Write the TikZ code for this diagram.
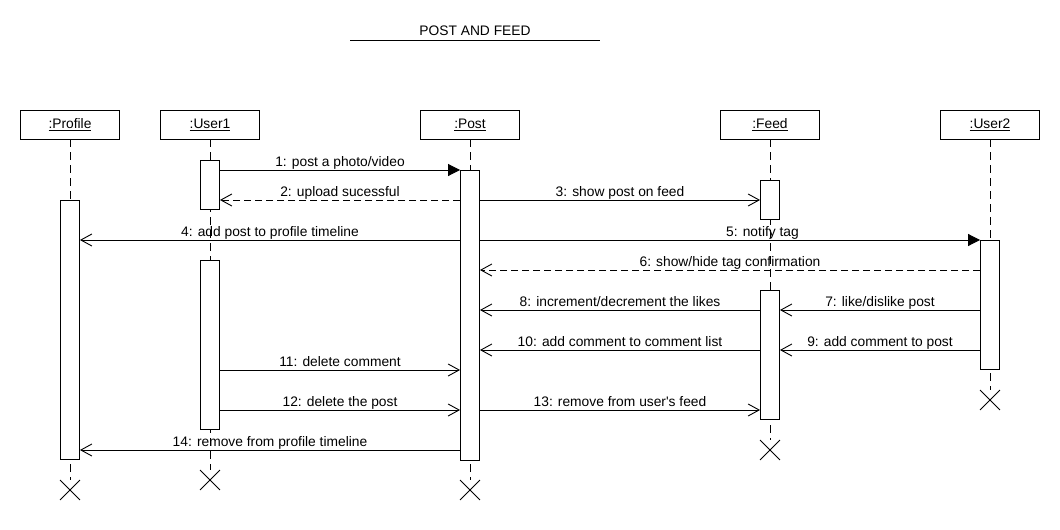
\documentclass[tikz,border=0pt]{standalone}
\usepackage{fontspec}
\setmainfont{Liberation Sans}
\usetikzlibrary{arrows.meta,shapes.misc}
\begin{document}
\begin{tikzpicture}[x=1pt,y=-1pt,
  font=\fontsize{13.8}{16}\selectfont,
  line width=0.9pt,
  obj/.style={draw, fill=white, minimum width=99pt, minimum height=29pt, inner sep=0pt},
  act/.style={draw, fill=white, minimum width=19pt, inner sep=0pt, anchor=north},
  lifeline/.style={dash pattern=on 8pt off 5pt},
  kill/.style={draw, cross out, minimum size=19pt, inner sep=0pt},
  syncmsg/.style={-{Triangle[length=12pt,width=12pt]}},
  replymsg/.style={-{Straight Barb[length=11pt,width=12pt]}, dash pattern=on 7pt off 4pt},
  asyncmsg/.style={-{Straight Barb[length=11pt,width=12pt]}},
  lbl/.style={anchor=base, yshift=4pt, inner sep=0pt}]
\useasboundingbox (0,0) rectangle (1060,530);
\fill[white] (0,0) rectangle (1060,530);

% title
\node[anchor=base, inner sep=0pt] (title) at (475,35) {POST AND FEED};
\coordinate (tl) at (350,40);
\coordinate (tr) at (600,40);
\draw (tl) -- (tr);

% objects
\node[obj] (profile) at (70,124.5) {\underline{:Profile}};
\node[obj] (user1)   at (210,124.5) {\underline{:User1}};
\node[obj] (post)    at (470,124.5) {\underline{:Post}};
\node[obj] (feed)    at (770,124.5) {\underline{:Feed}};
\node[obj] (user2)   at (990,124.5) {\underline{:User2}};

% destruction marks
\node[kill] (xprofile) at (70,490) {};
\node[kill] (xuser1)   at (210,480) {};
\node[kill] (xpost)    at (470,490) {};
\node[kill] (xfeed)    at (770,450) {};
\node[kill] (xuser2)   at (990,400) {};

% lifelines
\draw[lifeline] (profile.south) -- (xprofile.north);
\draw[lifeline] (user1.south) -- (xuser1.north);
\draw[lifeline] (post.south) -- (xpost.north);
\draw[lifeline] (feed.south) -- (xfeed.north);
\draw[lifeline] (user2.south) -- (xuser2.north);

% activations
\node[act, minimum height=49pt]  (ua1) at (210,160) {};
\node[act, minimum height=290pt] (pa)  at (470,170) {};
\node[act, minimum height=39pt]  (fa1) at (770,180) {};
\node[act, minimum height=259pt] (pra) at (70,200) {};
\node[act, minimum height=129pt] (u2a) at (990,240) {};
\node[act, minimum height=169pt] (ua2) at (210,260) {};
\node[act, minimum height=129pt] (fa2) at (770,290) {};

% message levels
\coordinate (m1) at (0,170);
\coordinate (m2) at (0,200);
\coordinate (m4) at (0,240);
\coordinate (m6) at (0,270);
\coordinate (m7) at (0,310);
\coordinate (m9) at (0,350);
\coordinate (m11) at (0,370);
\coordinate (m12) at (0,410);
\coordinate (m14) at (0,450);

% messages
\draw[syncmsg] (ua1.east |- m1) -- node[midway,lbl]{1: post a photo/video} (pa.west |- m1);
\draw[replymsg] (pa.west |- m2) -- node[midway,lbl]{2: upload sucessful} (ua1.east |- m2);
\draw[asyncmsg] (pa.east |- m2) -- node[midway,lbl]{3: show post on feed} (fa1.west |- m2);
\draw[asyncmsg] (pa.west |- m4) -- node[midway,lbl]{4: add post to profile timeline} (pra.east |- m4);
\draw[syncmsg] (pa.east |- m4) -- node[pos=0.565,lbl]{5: notify tag} (u2a.west |- m4);
\draw[replymsg] (u2a.west |- m6) -- node[midway,lbl]{6: show/hide tag confirmation} (pa.east |- m6);
\draw[asyncmsg] (u2a.west |- m7) -- node[midway,lbl]{7: like/dislike post} (fa2.east |- m7);
\draw[asyncmsg] (fa2.west |- m7) -- node[midway,lbl]{8: increment/decrement the likes} (pa.east |- m7);
\draw[asyncmsg] (u2a.west |- m9) -- node[midway,lbl]{9: add comment to post} (fa2.east |- m9);
\draw[asyncmsg] (fa2.west |- m9) -- node[midway,lbl]{10: add comment to comment list} (pa.east |- m9);
\draw[asyncmsg] (ua2.east |- m11) -- node[midway,lbl]{11: delete comment} (pa.west |- m11);
\draw[asyncmsg] (ua2.east |- m12) -- node[midway,lbl]{12: delete the post} (pa.west |- m12);
\draw[asyncmsg] (pa.east |- m12) -- node[midway,lbl]{13: remove from user\textquotesingle s feed} (fa2.west |- m12);
\draw[asyncmsg] (pa.west |- m14) -- node[midway,lbl]{14: remove from profile timeline} (pra.east |- m14);
\end{tikzpicture}
\end{document}
